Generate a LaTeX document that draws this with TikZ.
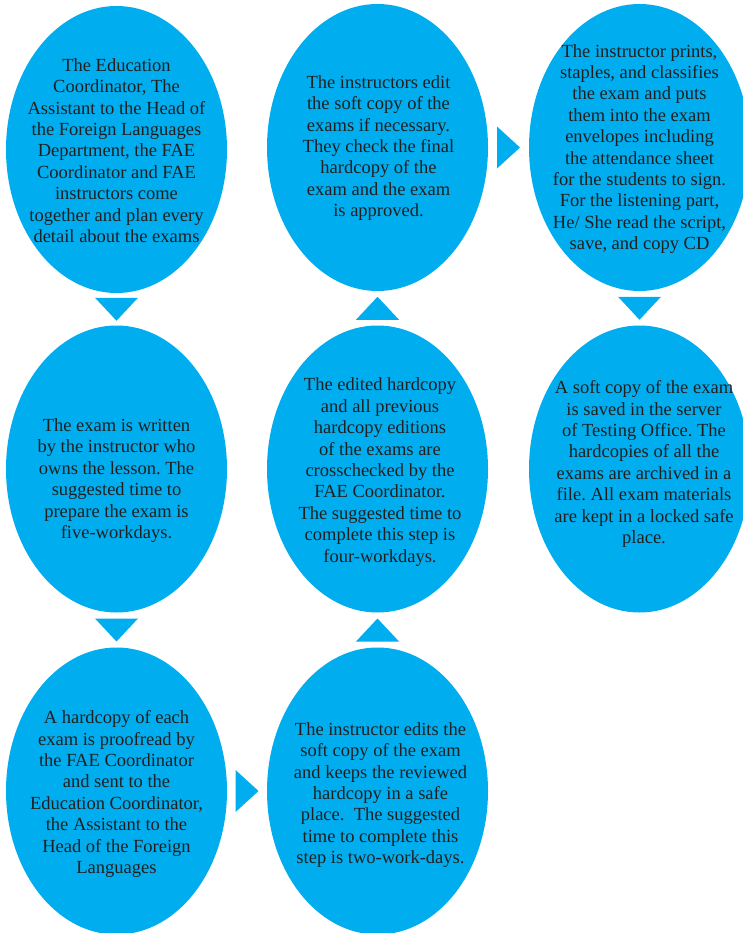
\documentclass[tikz,border=0pt]{standalone}
\usepackage{fontspec}
\setmainfont{Liberation Serif}
\frenchspacing
\usetikzlibrary{shapes.geometric,calc}
\definecolor{blobblue}{RGB}{0,174,239}
\definecolor{inkgrey}{RGB}{35,31,32}
\tikzset{
  blob/.style={ellipse, fill=blobblue, minimum width=221pt, minimum height=287pt, inner sep=0pt},
  txt/.style={align=center, text=inkgrey, font=\fontsize{18.5}{21.4}\selectfont\frenchspacing, inner sep=0pt},
  tri/.style={fill=blobblue},
}
\newcommand\tridown[2]{\fill[tri] ($(#1.south)!0.5!(#2.north)$) ++(-21.5,-11.5) -- ++(43,0) -- ++(-21.5,23) -- cycle;}
\newcommand\triup[2]{\fill[tri] ($(#1.north)!0.5!(#2.south)$) ++(-21.5,11.5) -- ++(43,0) -- ++(-21.5,-23) -- cycle;}
\newcommand\triright[2]{\fill[tri] ($(#1.east)!0.5!(#2.west)$) ++(-11.5,-21) -- ++(0,42) -- ++(23,-21) -- cycle;}
\begin{document}
\begin{tikzpicture}[x=1pt,y=-1pt]
\useasboundingbox (0,0) rectangle (743,933);
\clip (0,0) rectangle (743,933);
\fill[white] (0,0) rectangle (743,933);
% ellipses
\node[blob] (e1) at (116.5,149.5) {};
\node[blob] (e2) at (116.5,469) {};
\node[blob] (e3) at (116.5,791) {};
\node[blob] (e4) at (377.5,147.5) {};
\node[blob] (e5) at (377.5,469) {};
\node[blob] (e6) at (377.5,791) {};
\node[blob] (e7) at (639.5,147.5) {};
\node[blob] (e8) at (639.5,469) {};
% texts
\node[txt] (t1) at (116.5,150.5) {The Education\\Coordinator, The\\Assistant to the Head of\\the Foreign Languages\\Department, the FAE\\Coordinator and FAE\\instructors come\\together and plan every\\detail about the exams};
\node[txt] (t2) at (116.5,480.5) {The exam is written\\by the instructor who\\owns the lesson. The\\suggested time to\\prepare the exam is\\five-workdays.};
\node[txt] (t3) at (116.5,794) {A hardcopy of each\\exam is proofread by\\the FAE Coordinator\\and sent to the\\Education Coordinator,\\the Assistant to the\\Head of the Foreign\\Languages};
\node[txt] (t4) at (378.5,148) {The instructors edit\\the soft copy of the\\exams if necessary.\\They check the final\\hardcopy of the\\exam and the exam\\is approved.};
\node[txt] (t5) at (380,472) {The edited hardcopy\\and all previous\\hardcopy editions\\of the exams are\\crosschecked by the\\FAE Coordinator.\\The suggested time to\\complete this step is\\four-workdays.};
\node[txt] (t6) at (380.5,795) {The instructor edits the\\soft copy of the exam\\and keeps the reviewed\\hardcopy in a safe\\place.\ \ The suggested\\time to complete this\\step is two-work-days.};
\node[txt] (t7) at (639.5,149) {The instructor prints,\\staples, and classifies\\the exam and puts\\them into the exam\\envelopes including\\the attendance sheet\\for the students to sign.\\For the listening part,\\He/ She read the script,\\save, and copy CD};
\node[txt] (t8) at (644,464) {A soft copy of the exam\\is saved in the server\\of Testing Office. The\\hardcopies of all the\\exams are archived in a\\file. All exam materials\\are kept in a locked safe\\place.};
% connectors (triangles)
\tridown{e1}{e2}
\tridown{e2}{e3}
\triright{e3}{e6}
\triup{e6}{e5}
\triup{e5}{e4}
\triright{e4}{e7}
\tridown{e7}{e8}
\end{tikzpicture}
\end{document}
